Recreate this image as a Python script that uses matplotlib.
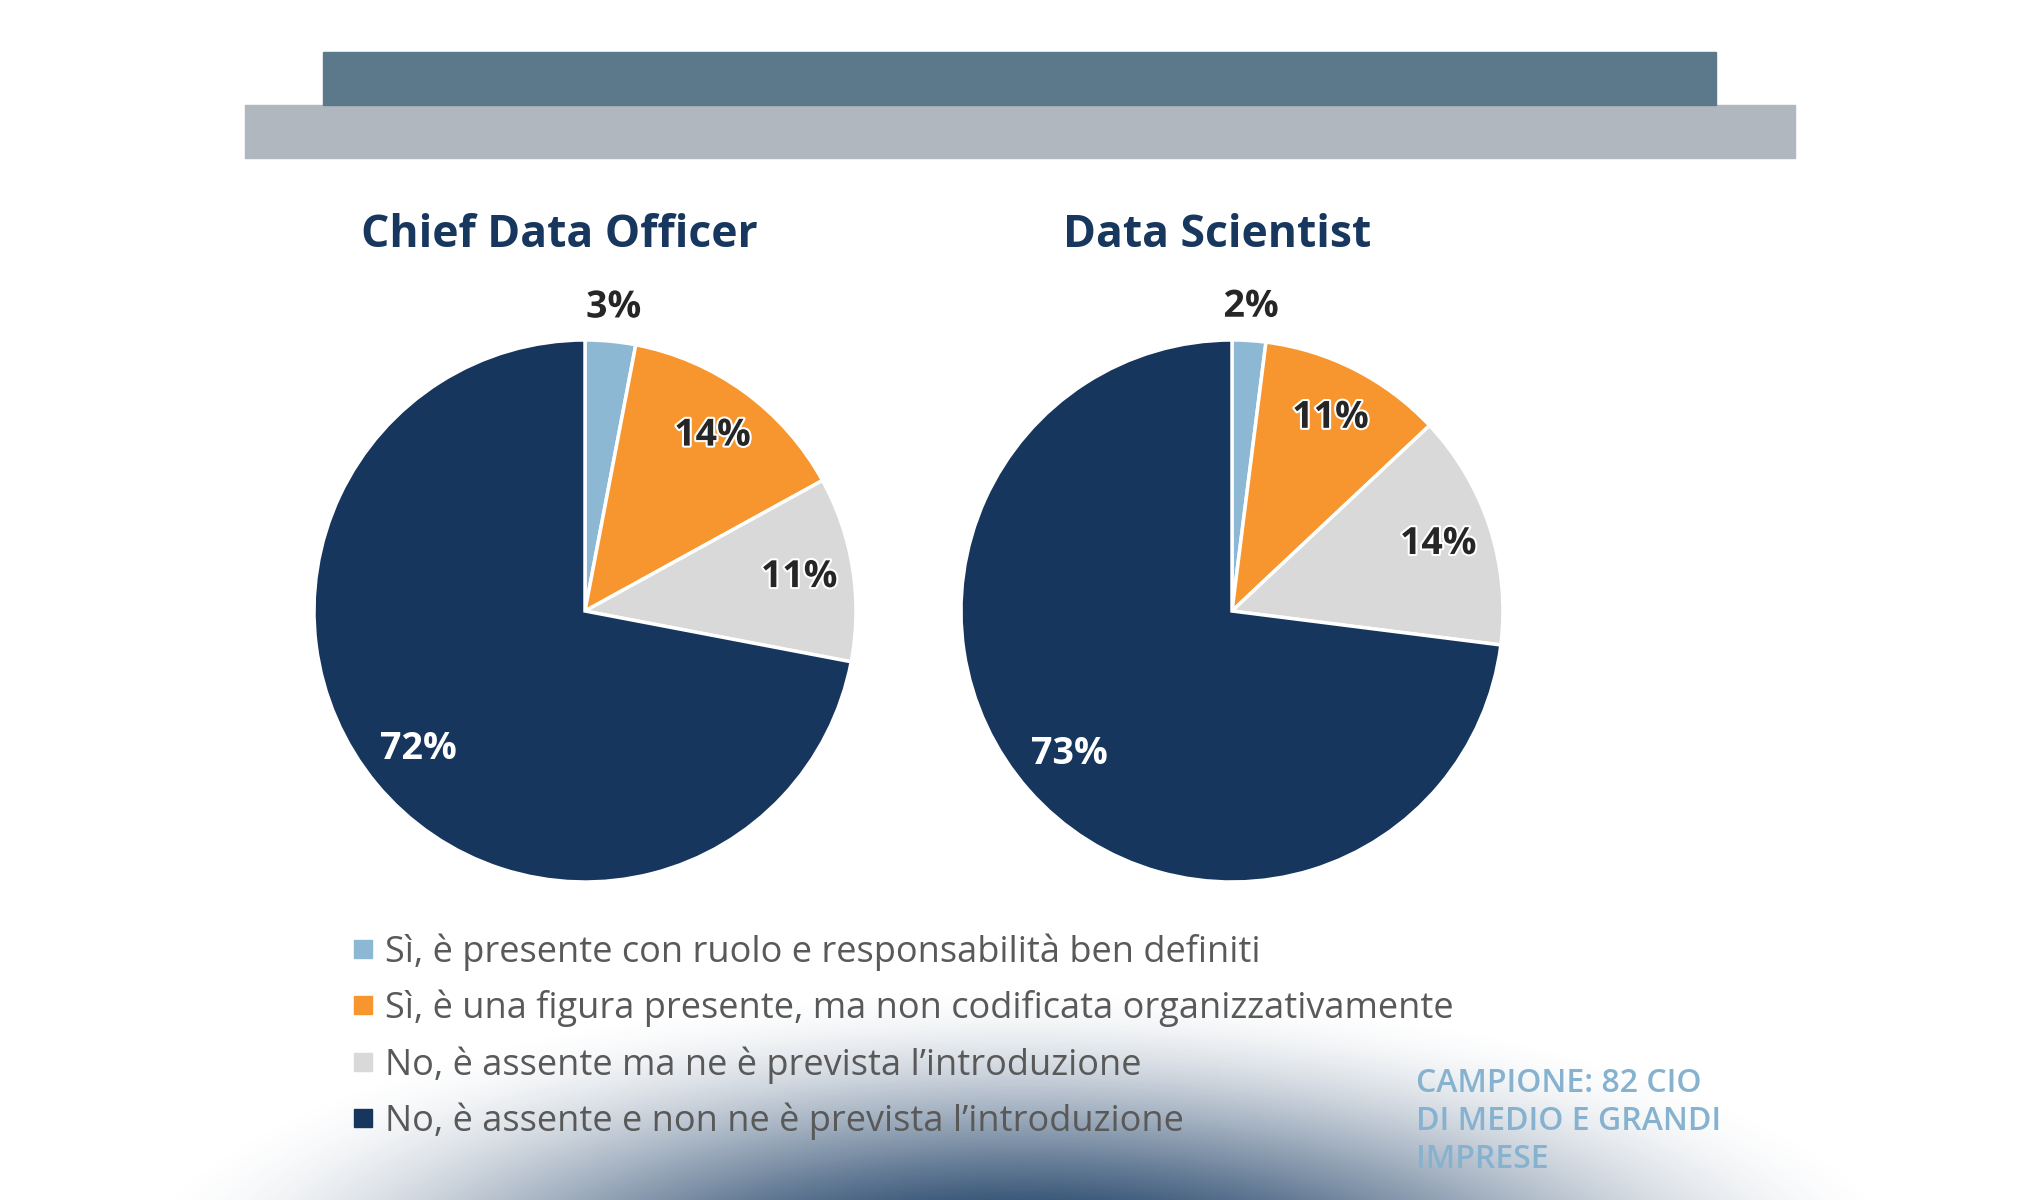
import numpy as np
import matplotlib
matplotlib.use("Agg")
import matplotlib.pyplot as plt
from matplotlib.patches import Rectangle
from matplotlib import patheffects

# data
categories = [
    "Sì, è presente con ruolo e responsabilità ben definiti",
    "Sì, è una figura presente, ma non codificata organizzativamente",
    "No, è assente ma ne è prevista l’introduzione",
    "No, è assente e non ne è prevista l’introduzione",
]
chief_data_officer = [3, 14, 11, 72]
data_scientist = [2, 11, 14, 73]
pie_titles = ["Chief Data Officer", "Data Scientist"]
sample_note = ["CAMPIONE: 82 CIO", "DI MEDIO E GRANDI", "IMPRESE"]

colors = ["#8db8d3", "#f7962e", "#d9d9d9", "#17365d"]
label_colors = ["#262626", "#262626", "#262626", "white"]
label_dist = [1.125, 0.8, 0.8, 0.8]

W, H = 2040, 1200
plt.rcParams["font.family"] = ["Open Sans", "DejaVu Sans"]

fig = plt.figure(figsize=(W / 100, H / 100), dpi=100)
fig.patch.set_facecolor("white")

# background layer in pixel coordinates
bg = fig.add_axes([0, 0, 1, 1])
bg.set_xlim(0, W)
bg.set_ylim(H, 0)
bg.axis("off")

# soft dark glow at the bottom
yy, xx = np.mgrid[0:H, 0:W]
d = np.sqrt(((xx - 1021) / 930.0) ** 2 + ((yy - 1300) / 320.0) ** 2)
s = np.clip(1 - d, 0, 1)
alpha = s * s * (3 - 2 * s)
glow = np.zeros((H, W, 4))
glow[..., 0], glow[..., 1], glow[..., 2] = 0.13, 0.26, 0.41
glow[..., 3] = np.clip(alpha * 1.15, 0, 0.95)
bg.imshow(glow, extent=(0, W, H, 0), aspect="auto", interpolation="bilinear", zorder=0)

# header bands
bg.add_patch(Rectangle((245, 105), 1550, 53, color="#b0b7be", zorder=1))
bg.add_patch(Rectangle((323, 52), 1393, 53, color="#5c798b", zorder=1))

# pies
R = 271
L = 1.25
side = 2 * L * R
centers = [(585, 611), (1232, 611)]
title_x = [559, 1217]

for (cx, cy), vals, title, tx in zip(centers, [chief_data_officer, data_scientist], pie_titles, title_x):
    ax = fig.add_axes([(cx - side / 2) / W, (H - cy - side / 2) / H, side / W, side / H])
    ax.patch.set_alpha(0)
    wedges, _ = ax.pie(vals, colors=colors, startangle=90, counterclock=False,
                       wedgeprops=dict(edgecolor="white", linewidth=2.5))
    ax.set_xlim(-L, L)
    ax.set_ylim(-L, L)
    for w, v, dist, tc in zip(wedges, vals, label_dist, label_colors):
        ang = np.deg2rad((w.theta1 + w.theta2) / 2)
        pe = [] if tc == "white" else [patheffects.withStroke(linewidth=3, foreground="white")]
        ax.text(dist * np.cos(ang), dist * np.sin(ang), f"{v}%", ha="center", va="center",
                fontsize=27, fontweight="bold", color=tc, path_effects=pe)
    fig.text(tx / W, 1 - 247 / H, title, ha="center", va="baseline",
             fontsize=32, fontweight="bold", color="#17375e")

# legend
row_y = 962 + 56.4 * np.arange(len(categories))
for lab, col, y in zip(categories, colors, row_y):
    bg.add_patch(Rectangle((354, y - 22), 18, 18, color=col, zorder=3))
    bg.text(385, y, lab, ha="left", va="baseline", fontsize=26, color="#595959", zorder=3)

# sample note
for i, line in enumerate(sample_note):
    bg.text(1416, 1092 + 38 * i, line, ha="left", va="baseline", fontsize=23,
            fontweight="semibold", color="#86b2d0", zorder=3)

fig.savefig("out.png", dpi=100, facecolor="white")
